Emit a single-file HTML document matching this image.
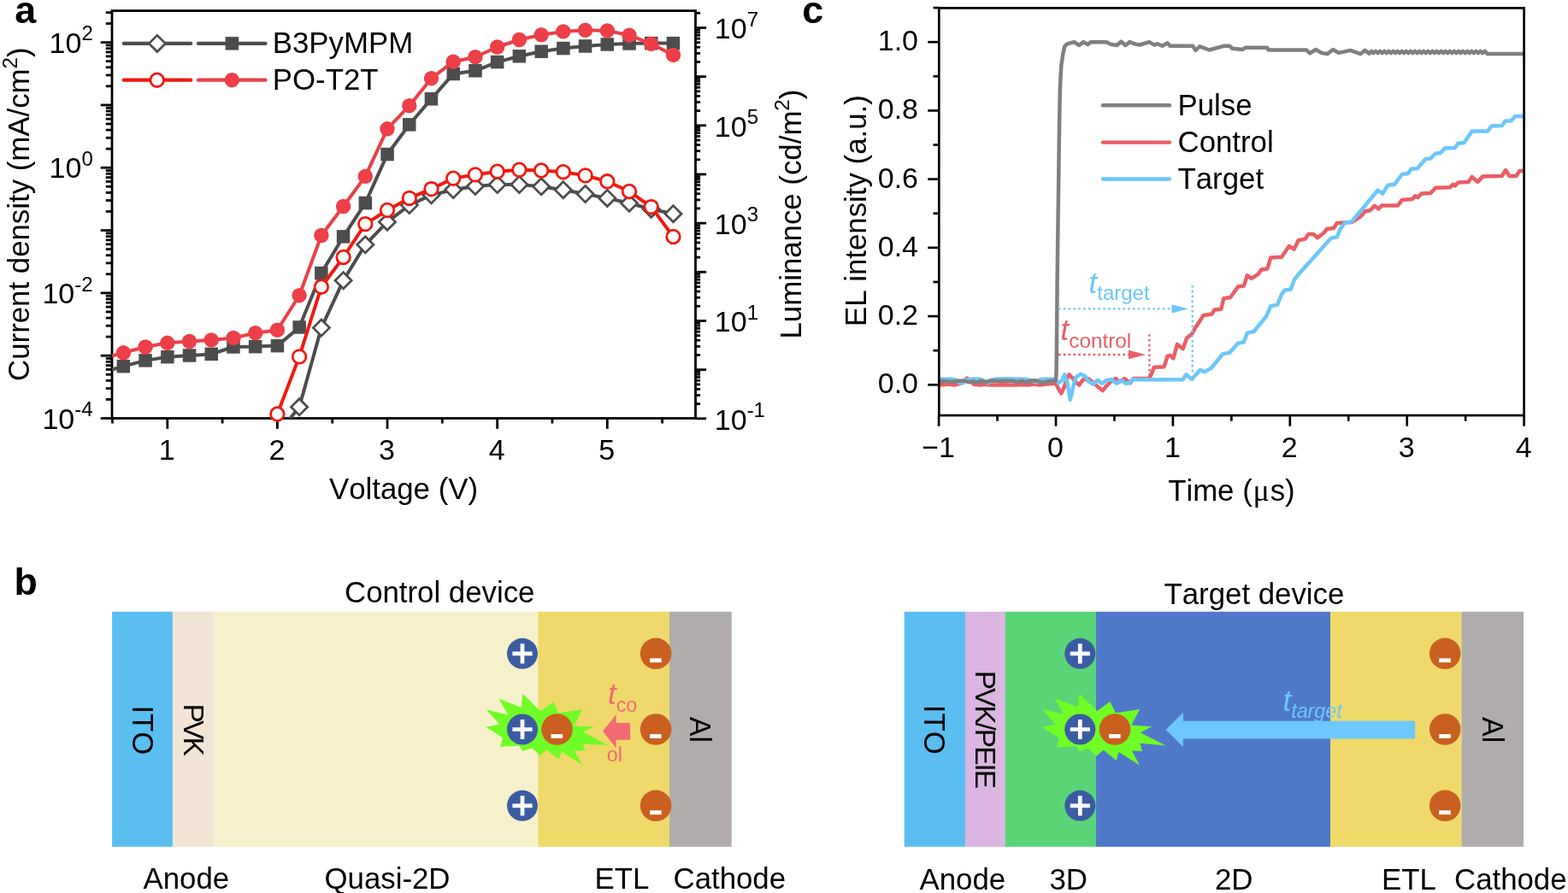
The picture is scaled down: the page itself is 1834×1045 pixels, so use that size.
<!DOCTYPE html>
<html lang="en">
<head>
<meta charset="utf-8">
<title>Figure: J-V-L characteristics, device schematics and transient EL</title>
<style>
html,body{margin:0;padding:0;background:#fff;}
body{width:1834px;height:1045px;overflow:hidden;}
svg{display:block;font-family:'Liberation Sans', Arial, Helvetica, sans-serif;font-kerning:none;}
</style>
</head>
<body>
<svg width="1834" height="1045" viewBox="0 0 1834 1045">
<rect x="0" y="0" width="1834" height="1045" fill="#ffffff"/>
<g id="panel-a">
<line x1="117.70" y1="489.50" x2="131.00" y2="489.50" stroke="#000" stroke-width="2.8" />
<line x1="123.80" y1="467.43" x2="131.00" y2="467.43" stroke="#000" stroke-width="2.8" />
<line x1="123.80" y1="454.52" x2="131.00" y2="454.52" stroke="#000" stroke-width="2.8" />
<line x1="123.80" y1="445.36" x2="131.00" y2="445.36" stroke="#000" stroke-width="2.8" />
<line x1="123.80" y1="438.25" x2="131.00" y2="438.25" stroke="#000" stroke-width="2.8" />
<line x1="123.80" y1="432.45" x2="131.00" y2="432.45" stroke="#000" stroke-width="2.8" />
<line x1="123.80" y1="427.54" x2="131.00" y2="427.54" stroke="#000" stroke-width="2.8" />
<line x1="123.80" y1="423.29" x2="131.00" y2="423.29" stroke="#000" stroke-width="2.8" />
<line x1="123.80" y1="419.54" x2="131.00" y2="419.54" stroke="#000" stroke-width="2.8" />
<line x1="117.70" y1="416.18" x2="131.00" y2="416.18" stroke="#000" stroke-width="2.8" />
<line x1="123.80" y1="394.11" x2="131.00" y2="394.11" stroke="#000" stroke-width="2.8" />
<line x1="123.80" y1="381.20" x2="131.00" y2="381.20" stroke="#000" stroke-width="2.8" />
<line x1="123.80" y1="372.04" x2="131.00" y2="372.04" stroke="#000" stroke-width="2.8" />
<line x1="123.80" y1="364.94" x2="131.00" y2="364.94" stroke="#000" stroke-width="2.8" />
<line x1="123.80" y1="359.13" x2="131.00" y2="359.13" stroke="#000" stroke-width="2.8" />
<line x1="123.80" y1="354.22" x2="131.00" y2="354.22" stroke="#000" stroke-width="2.8" />
<line x1="123.80" y1="349.97" x2="131.00" y2="349.97" stroke="#000" stroke-width="2.8" />
<line x1="123.80" y1="346.22" x2="131.00" y2="346.22" stroke="#000" stroke-width="2.8" />
<line x1="117.70" y1="342.87" x2="131.00" y2="342.87" stroke="#000" stroke-width="2.8" />
<line x1="123.80" y1="320.80" x2="131.00" y2="320.80" stroke="#000" stroke-width="2.8" />
<line x1="123.80" y1="307.89" x2="131.00" y2="307.89" stroke="#000" stroke-width="2.8" />
<line x1="123.80" y1="298.73" x2="131.00" y2="298.73" stroke="#000" stroke-width="2.8" />
<line x1="123.80" y1="291.62" x2="131.00" y2="291.62" stroke="#000" stroke-width="2.8" />
<line x1="123.80" y1="285.82" x2="131.00" y2="285.82" stroke="#000" stroke-width="2.8" />
<line x1="123.80" y1="280.91" x2="131.00" y2="280.91" stroke="#000" stroke-width="2.8" />
<line x1="123.80" y1="276.66" x2="131.00" y2="276.66" stroke="#000" stroke-width="2.8" />
<line x1="123.80" y1="272.90" x2="131.00" y2="272.90" stroke="#000" stroke-width="2.8" />
<line x1="117.70" y1="269.55" x2="131.00" y2="269.55" stroke="#000" stroke-width="2.8" />
<line x1="123.80" y1="247.48" x2="131.00" y2="247.48" stroke="#000" stroke-width="2.8" />
<line x1="123.80" y1="234.57" x2="131.00" y2="234.57" stroke="#000" stroke-width="2.8" />
<line x1="123.80" y1="225.41" x2="131.00" y2="225.41" stroke="#000" stroke-width="2.8" />
<line x1="123.80" y1="218.30" x2="131.00" y2="218.30" stroke="#000" stroke-width="2.8" />
<line x1="123.80" y1="212.50" x2="131.00" y2="212.50" stroke="#000" stroke-width="2.8" />
<line x1="123.80" y1="207.59" x2="131.00" y2="207.59" stroke="#000" stroke-width="2.8" />
<line x1="123.80" y1="203.34" x2="131.00" y2="203.34" stroke="#000" stroke-width="2.8" />
<line x1="123.80" y1="199.59" x2="131.00" y2="199.59" stroke="#000" stroke-width="2.8" />
<line x1="117.70" y1="196.23" x2="131.00" y2="196.23" stroke="#000" stroke-width="2.8" />
<line x1="123.80" y1="174.16" x2="131.00" y2="174.16" stroke="#000" stroke-width="2.8" />
<line x1="123.80" y1="161.25" x2="131.00" y2="161.25" stroke="#000" stroke-width="2.8" />
<line x1="123.80" y1="152.09" x2="131.00" y2="152.09" stroke="#000" stroke-width="2.8" />
<line x1="123.80" y1="144.99" x2="131.00" y2="144.99" stroke="#000" stroke-width="2.8" />
<line x1="123.80" y1="139.18" x2="131.00" y2="139.18" stroke="#000" stroke-width="2.8" />
<line x1="123.80" y1="134.27" x2="131.00" y2="134.27" stroke="#000" stroke-width="2.8" />
<line x1="123.80" y1="130.02" x2="131.00" y2="130.02" stroke="#000" stroke-width="2.8" />
<line x1="123.80" y1="126.27" x2="131.00" y2="126.27" stroke="#000" stroke-width="2.8" />
<line x1="117.70" y1="122.92" x2="131.00" y2="122.92" stroke="#000" stroke-width="2.8" />
<line x1="123.80" y1="100.85" x2="131.00" y2="100.85" stroke="#000" stroke-width="2.8" />
<line x1="123.80" y1="87.94" x2="131.00" y2="87.94" stroke="#000" stroke-width="2.8" />
<line x1="123.80" y1="78.78" x2="131.00" y2="78.78" stroke="#000" stroke-width="2.8" />
<line x1="123.80" y1="71.67" x2="131.00" y2="71.67" stroke="#000" stroke-width="2.8" />
<line x1="123.80" y1="65.87" x2="131.00" y2="65.87" stroke="#000" stroke-width="2.8" />
<line x1="123.80" y1="60.96" x2="131.00" y2="60.96" stroke="#000" stroke-width="2.8" />
<line x1="123.80" y1="56.71" x2="131.00" y2="56.71" stroke="#000" stroke-width="2.8" />
<line x1="123.80" y1="52.95" x2="131.00" y2="52.95" stroke="#000" stroke-width="2.8" />
<line x1="117.70" y1="49.60" x2="131.00" y2="49.60" stroke="#000" stroke-width="2.8" />
<line x1="123.80" y1="27.53" x2="131.00" y2="27.53" stroke="#000" stroke-width="2.8" />
<line x1="123.80" y1="14.62" x2="131.00" y2="14.62" stroke="#000" stroke-width="2.8" />
<line x1="813.50" y1="489.80" x2="826.10" y2="489.80" stroke="#000" stroke-width="2.8" />
<line x1="813.50" y1="472.59" x2="819.10" y2="472.59" stroke="#000" stroke-width="2.8" />
<line x1="813.50" y1="462.53" x2="819.10" y2="462.53" stroke="#000" stroke-width="2.8" />
<line x1="813.50" y1="455.38" x2="819.10" y2="455.38" stroke="#000" stroke-width="2.8" />
<line x1="813.50" y1="449.85" x2="819.10" y2="449.85" stroke="#000" stroke-width="2.8" />
<line x1="813.50" y1="445.32" x2="819.10" y2="445.32" stroke="#000" stroke-width="2.8" />
<line x1="813.50" y1="441.49" x2="819.10" y2="441.49" stroke="#000" stroke-width="2.8" />
<line x1="813.50" y1="438.18" x2="819.10" y2="438.18" stroke="#000" stroke-width="2.8" />
<line x1="813.50" y1="435.25" x2="819.10" y2="435.25" stroke="#000" stroke-width="2.8" />
<line x1="813.50" y1="432.64" x2="826.10" y2="432.64" stroke="#000" stroke-width="2.8" />
<line x1="813.50" y1="415.43" x2="819.10" y2="415.43" stroke="#000" stroke-width="2.8" />
<line x1="813.50" y1="405.36" x2="819.10" y2="405.36" stroke="#000" stroke-width="2.8" />
<line x1="813.50" y1="398.22" x2="819.10" y2="398.22" stroke="#000" stroke-width="2.8" />
<line x1="813.50" y1="392.68" x2="819.10" y2="392.68" stroke="#000" stroke-width="2.8" />
<line x1="813.50" y1="388.16" x2="819.10" y2="388.16" stroke="#000" stroke-width="2.8" />
<line x1="813.50" y1="384.33" x2="819.10" y2="384.33" stroke="#000" stroke-width="2.8" />
<line x1="813.50" y1="381.01" x2="819.10" y2="381.01" stroke="#000" stroke-width="2.8" />
<line x1="813.50" y1="378.09" x2="819.10" y2="378.09" stroke="#000" stroke-width="2.8" />
<line x1="813.50" y1="375.48" x2="826.10" y2="375.48" stroke="#000" stroke-width="2.8" />
<line x1="813.50" y1="358.27" x2="819.10" y2="358.27" stroke="#000" stroke-width="2.8" />
<line x1="813.50" y1="348.20" x2="819.10" y2="348.20" stroke="#000" stroke-width="2.8" />
<line x1="813.50" y1="341.06" x2="819.10" y2="341.06" stroke="#000" stroke-width="2.8" />
<line x1="813.50" y1="335.52" x2="819.10" y2="335.52" stroke="#000" stroke-width="2.8" />
<line x1="813.50" y1="330.99" x2="819.10" y2="330.99" stroke="#000" stroke-width="2.8" />
<line x1="813.50" y1="327.17" x2="819.10" y2="327.17" stroke="#000" stroke-width="2.8" />
<line x1="813.50" y1="323.85" x2="819.10" y2="323.85" stroke="#000" stroke-width="2.8" />
<line x1="813.50" y1="320.93" x2="819.10" y2="320.93" stroke="#000" stroke-width="2.8" />
<line x1="813.50" y1="318.31" x2="826.10" y2="318.31" stroke="#000" stroke-width="2.8" />
<line x1="813.50" y1="301.10" x2="819.10" y2="301.10" stroke="#000" stroke-width="2.8" />
<line x1="813.50" y1="291.04" x2="819.10" y2="291.04" stroke="#000" stroke-width="2.8" />
<line x1="813.50" y1="283.90" x2="819.10" y2="283.90" stroke="#000" stroke-width="2.8" />
<line x1="813.50" y1="278.36" x2="819.10" y2="278.36" stroke="#000" stroke-width="2.8" />
<line x1="813.50" y1="273.83" x2="819.10" y2="273.83" stroke="#000" stroke-width="2.8" />
<line x1="813.50" y1="270.00" x2="819.10" y2="270.00" stroke="#000" stroke-width="2.8" />
<line x1="813.50" y1="266.69" x2="819.10" y2="266.69" stroke="#000" stroke-width="2.8" />
<line x1="813.50" y1="263.77" x2="819.10" y2="263.77" stroke="#000" stroke-width="2.8" />
<line x1="813.50" y1="261.15" x2="826.10" y2="261.15" stroke="#000" stroke-width="2.8" />
<line x1="813.50" y1="243.94" x2="819.10" y2="243.94" stroke="#000" stroke-width="2.8" />
<line x1="813.50" y1="233.88" x2="819.10" y2="233.88" stroke="#000" stroke-width="2.8" />
<line x1="813.50" y1="226.73" x2="819.10" y2="226.73" stroke="#000" stroke-width="2.8" />
<line x1="813.50" y1="221.20" x2="819.10" y2="221.20" stroke="#000" stroke-width="2.8" />
<line x1="813.50" y1="216.67" x2="819.10" y2="216.67" stroke="#000" stroke-width="2.8" />
<line x1="813.50" y1="212.84" x2="819.10" y2="212.84" stroke="#000" stroke-width="2.8" />
<line x1="813.50" y1="209.53" x2="819.10" y2="209.53" stroke="#000" stroke-width="2.8" />
<line x1="813.50" y1="206.60" x2="819.10" y2="206.60" stroke="#000" stroke-width="2.8" />
<line x1="813.50" y1="203.99" x2="826.10" y2="203.99" stroke="#000" stroke-width="2.8" />
<line x1="813.50" y1="186.78" x2="819.10" y2="186.78" stroke="#000" stroke-width="2.8" />
<line x1="813.50" y1="176.71" x2="819.10" y2="176.71" stroke="#000" stroke-width="2.8" />
<line x1="813.50" y1="169.57" x2="819.10" y2="169.57" stroke="#000" stroke-width="2.8" />
<line x1="813.50" y1="164.03" x2="819.10" y2="164.03" stroke="#000" stroke-width="2.8" />
<line x1="813.50" y1="159.51" x2="819.10" y2="159.51" stroke="#000" stroke-width="2.8" />
<line x1="813.50" y1="155.68" x2="819.10" y2="155.68" stroke="#000" stroke-width="2.8" />
<line x1="813.50" y1="152.36" x2="819.10" y2="152.36" stroke="#000" stroke-width="2.8" />
<line x1="813.50" y1="149.44" x2="819.10" y2="149.44" stroke="#000" stroke-width="2.8" />
<line x1="813.50" y1="146.82" x2="826.10" y2="146.82" stroke="#000" stroke-width="2.8" />
<line x1="813.50" y1="129.62" x2="819.10" y2="129.62" stroke="#000" stroke-width="2.8" />
<line x1="813.50" y1="119.55" x2="819.10" y2="119.55" stroke="#000" stroke-width="2.8" />
<line x1="813.50" y1="112.41" x2="819.10" y2="112.41" stroke="#000" stroke-width="2.8" />
<line x1="813.50" y1="106.87" x2="819.10" y2="106.87" stroke="#000" stroke-width="2.8" />
<line x1="813.50" y1="102.34" x2="819.10" y2="102.34" stroke="#000" stroke-width="2.8" />
<line x1="813.50" y1="98.52" x2="819.10" y2="98.52" stroke="#000" stroke-width="2.8" />
<line x1="813.50" y1="95.20" x2="819.10" y2="95.20" stroke="#000" stroke-width="2.8" />
<line x1="813.50" y1="92.28" x2="819.10" y2="92.28" stroke="#000" stroke-width="2.8" />
<line x1="813.50" y1="89.66" x2="826.10" y2="89.66" stroke="#000" stroke-width="2.8" />
<line x1="813.50" y1="72.45" x2="819.10" y2="72.45" stroke="#000" stroke-width="2.8" />
<line x1="813.50" y1="62.39" x2="819.10" y2="62.39" stroke="#000" stroke-width="2.8" />
<line x1="813.50" y1="55.25" x2="819.10" y2="55.25" stroke="#000" stroke-width="2.8" />
<line x1="813.50" y1="49.71" x2="819.10" y2="49.71" stroke="#000" stroke-width="2.8" />
<line x1="813.50" y1="45.18" x2="819.10" y2="45.18" stroke="#000" stroke-width="2.8" />
<line x1="813.50" y1="41.35" x2="819.10" y2="41.35" stroke="#000" stroke-width="2.8" />
<line x1="813.50" y1="38.04" x2="819.10" y2="38.04" stroke="#000" stroke-width="2.8" />
<line x1="813.50" y1="35.12" x2="819.10" y2="35.12" stroke="#000" stroke-width="2.8" />
<line x1="813.50" y1="32.50" x2="826.10" y2="32.50" stroke="#000" stroke-width="2.8" />
<line x1="813.50" y1="15.29" x2="819.10" y2="15.29" stroke="#000" stroke-width="2.8" />
<line x1="195.80" y1="489.50" x2="195.80" y2="501.80" stroke="#000" stroke-width="2.8" />
<line x1="324.42" y1="489.50" x2="324.42" y2="501.80" stroke="#000" stroke-width="2.8" />
<line x1="453.04" y1="489.50" x2="453.04" y2="501.80" stroke="#000" stroke-width="2.8" />
<line x1="581.66" y1="489.50" x2="581.66" y2="501.80" stroke="#000" stroke-width="2.8" />
<line x1="710.28" y1="489.50" x2="710.28" y2="501.80" stroke="#000" stroke-width="2.8" />
<line x1="131.49" y1="489.50" x2="131.49" y2="495.50" stroke="#000" stroke-width="2.8" />
<line x1="260.11" y1="489.50" x2="260.11" y2="495.50" stroke="#000" stroke-width="2.8" />
<line x1="388.73" y1="489.50" x2="388.73" y2="495.50" stroke="#000" stroke-width="2.8" />
<line x1="517.35" y1="489.50" x2="517.35" y2="495.50" stroke="#000" stroke-width="2.8" />
<line x1="645.97" y1="489.50" x2="645.97" y2="495.50" stroke="#000" stroke-width="2.8" />
<line x1="774.59" y1="489.50" x2="774.59" y2="495.50" stroke="#000" stroke-width="2.8" />
<rect x="131.0" y="12.6" width="682.50" height="476.90" fill="none" stroke="#000" stroke-width="2.8"/>
<text x="57.60" y="61.80" font-size="34.0" text-anchor="start" fill="#000">10<tspan font-size="24.0" dy="-14.5">2</tspan></text>
<text x="57.60" y="208.43" font-size="34.0" text-anchor="start" fill="#000">10<tspan font-size="24.0" dy="-14.5">0</tspan></text>
<text x="49.40" y="355.07" font-size="34.0" text-anchor="start" fill="#000">10<tspan font-size="24.0" dy="-14.5">-2</tspan></text>
<text x="49.40" y="501.70" font-size="34.0" text-anchor="start" fill="#000">10<tspan font-size="24.0" dy="-14.5">-4</tspan></text>
<text x="835.80" y="45.30" font-size="34.0" text-anchor="start" fill="#000">10<tspan font-size="24.0" dy="-14.5">7</tspan></text>
<text x="835.80" y="159.62" font-size="34.0" text-anchor="start" fill="#000">10<tspan font-size="24.0" dy="-14.5">5</tspan></text>
<text x="835.80" y="273.95" font-size="34.0" text-anchor="start" fill="#000">10<tspan font-size="24.0" dy="-14.5">3</tspan></text>
<text x="835.80" y="388.28" font-size="34.0" text-anchor="start" fill="#000">10<tspan font-size="24.0" dy="-14.5">1</tspan></text>
<text x="835.80" y="502.60" font-size="34.0" text-anchor="start" fill="#000">10<tspan font-size="24.0" dy="-14.5">-1</tspan></text>
<text x="195.30" y="538.30" font-size="34.0" text-anchor="middle" fill="#000">1</text>
<text x="323.92" y="538.30" font-size="34.0" text-anchor="middle" fill="#000">2</text>
<text x="452.54" y="538.30" font-size="34.0" text-anchor="middle" fill="#000">3</text>
<text x="581.16" y="538.30" font-size="34.0" text-anchor="middle" fill="#000">4</text>
<text x="709.78" y="538.30" font-size="34.0" text-anchor="middle" fill="#000">5</text>
<text x="472.00" y="583.90" font-size="34.8" text-anchor="middle" fill="#000">Voltage (V)</text>
<text x="34.30" y="250.70" font-size="34.8" text-anchor="middle" fill="#000" transform="rotate(-90 34.30 250.70)">Current density (mA/cm<tspan font-size="24.0" dy="-14.5">2</tspan><tspan dy="14.5">)</tspan></text>
<text x="937.30" y="250.60" font-size="34.8" text-anchor="middle" fill="#000" transform="rotate(-90 937.30 250.60)">Luminance (cd/m<tspan font-size="24.0" dy="-14.5">2</tspan><tspan dy="14.5">)</tspan></text>
<text x="17.20" y="26.80" font-size="44.8" text-anchor="start" fill="#000" font-weight="bold">a</text>
<polyline points="339.4,489.5 350.1,476.3 375.9,383.6 401.6,328.2 427.3,286.3 453.0,259.7 478.8,240.1 504.5,228.3 530.2,222.0 555.9,218.0 581.7,216.0 607.4,216.0 633.1,218.3 658.8,222.2 684.6,227.0 710.3,231.9 736.0,237.8 761.7,244.7 787.5,250.2" fill="none" stroke="#4d4d4d" stroke-width="4.0" stroke-linejoin="round" stroke-linecap="butt"/>
<path d="M340.5 476.3L350.1 466.7L359.7 476.3L350.1 485.9Z" fill="#fff" stroke="#4d4d4d" stroke-width="2.7" stroke-linejoin="miter"/>
<path d="M366.3 383.6L375.9 374.0L385.5 383.6L375.9 393.2Z" fill="#fff" stroke="#4d4d4d" stroke-width="2.7" stroke-linejoin="miter"/>
<path d="M392.0 328.2L401.6 318.6L411.2 328.2L401.6 337.8Z" fill="#fff" stroke="#4d4d4d" stroke-width="2.7" stroke-linejoin="miter"/>
<path d="M417.7 286.3L427.3 276.7L436.9 286.3L427.3 295.9Z" fill="#fff" stroke="#4d4d4d" stroke-width="2.7" stroke-linejoin="miter"/>
<path d="M443.4 259.7L453.0 250.1L462.6 259.7L453.0 269.3Z" fill="#fff" stroke="#4d4d4d" stroke-width="2.7" stroke-linejoin="miter"/>
<path d="M469.2 240.1L478.8 230.5L488.4 240.1L478.8 249.7Z" fill="#fff" stroke="#4d4d4d" stroke-width="2.7" stroke-linejoin="miter"/>
<path d="M494.9 228.3L504.5 218.7L514.1 228.3L504.5 237.9Z" fill="#fff" stroke="#4d4d4d" stroke-width="2.7" stroke-linejoin="miter"/>
<path d="M520.6 222.0L530.2 212.4L539.8 222.0L530.2 231.6Z" fill="#fff" stroke="#4d4d4d" stroke-width="2.7" stroke-linejoin="miter"/>
<path d="M546.3 218.0L555.9 208.4L565.5 218.0L555.9 227.6Z" fill="#fff" stroke="#4d4d4d" stroke-width="2.7" stroke-linejoin="miter"/>
<path d="M572.1 216.0L581.7 206.4L591.3 216.0L581.7 225.6Z" fill="#fff" stroke="#4d4d4d" stroke-width="2.7" stroke-linejoin="miter"/>
<path d="M597.8 216.0L607.4 206.4L617.0 216.0L607.4 225.6Z" fill="#fff" stroke="#4d4d4d" stroke-width="2.7" stroke-linejoin="miter"/>
<path d="M623.5 218.3L633.1 208.7L642.7 218.3L633.1 227.9Z" fill="#fff" stroke="#4d4d4d" stroke-width="2.7" stroke-linejoin="miter"/>
<path d="M649.2 222.2L658.8 212.6L668.4 222.2L658.8 231.8Z" fill="#fff" stroke="#4d4d4d" stroke-width="2.7" stroke-linejoin="miter"/>
<path d="M675.0 227.0L684.6 217.4L694.2 227.0L684.6 236.6Z" fill="#fff" stroke="#4d4d4d" stroke-width="2.7" stroke-linejoin="miter"/>
<path d="M700.7 231.9L710.3 222.3L719.9 231.9L710.3 241.5Z" fill="#fff" stroke="#4d4d4d" stroke-width="2.7" stroke-linejoin="miter"/>
<path d="M726.4 237.8L736.0 228.2L745.6 237.8L736.0 247.4Z" fill="#fff" stroke="#4d4d4d" stroke-width="2.7" stroke-linejoin="miter"/>
<path d="M752.1 244.7L761.7 235.1L771.3 244.7L761.7 254.3Z" fill="#fff" stroke="#4d4d4d" stroke-width="2.7" stroke-linejoin="miter"/>
<path d="M777.9 250.2L787.5 240.6L797.1 250.2L787.5 259.8Z" fill="#fff" stroke="#4d4d4d" stroke-width="2.7" stroke-linejoin="miter"/>
<polyline points="131.0,432.5 144.4,428.7 170.1,421.9 195.8,417.7 221.5,416.0 247.2,414.4 273.0,406.0 298.7,405.6 324.4,404.6 350.1,383.0 375.9,319.6 401.6,276.8 427.3,237.6 453.0,180.6 478.8,145.8 504.5,115.8 530.2,86.4 555.9,82.8 581.7,72.6 607.4,65.8 633.1,60.3 658.8,56.5 684.6,54.0 710.3,52.0 736.0,51.0 761.7,50.6 787.5,50.6" fill="none" stroke="#4d4d4d" stroke-width="4.0" stroke-linejoin="round" stroke-linecap="butt"/>
<rect x="136.6" y="420.9" width="15.5" height="15.5" fill="#4d4d4d"/>
<rect x="162.3" y="414.1" width="15.5" height="15.5" fill="#4d4d4d"/>
<rect x="188.1" y="409.9" width="15.5" height="15.5" fill="#4d4d4d"/>
<rect x="213.8" y="408.2" width="15.5" height="15.5" fill="#4d4d4d"/>
<rect x="239.5" y="406.6" width="15.5" height="15.5" fill="#4d4d4d"/>
<rect x="265.2" y="398.2" width="15.5" height="15.5" fill="#4d4d4d"/>
<rect x="290.9" y="397.9" width="15.5" height="15.5" fill="#4d4d4d"/>
<rect x="316.7" y="396.9" width="15.5" height="15.5" fill="#4d4d4d"/>
<rect x="342.4" y="375.2" width="15.5" height="15.5" fill="#4d4d4d"/>
<rect x="368.1" y="311.9" width="15.5" height="15.5" fill="#4d4d4d"/>
<rect x="393.8" y="269.1" width="15.5" height="15.5" fill="#4d4d4d"/>
<rect x="419.6" y="229.8" width="15.5" height="15.5" fill="#4d4d4d"/>
<rect x="445.3" y="172.8" width="15.5" height="15.5" fill="#4d4d4d"/>
<rect x="471.0" y="138.1" width="15.5" height="15.5" fill="#4d4d4d"/>
<rect x="496.7" y="108.0" width="15.5" height="15.5" fill="#4d4d4d"/>
<rect x="522.5" y="78.7" width="15.5" height="15.5" fill="#4d4d4d"/>
<rect x="548.2" y="75.0" width="15.5" height="15.5" fill="#4d4d4d"/>
<rect x="573.9" y="64.8" width="15.5" height="15.5" fill="#4d4d4d"/>
<rect x="599.6" y="58.0" width="15.5" height="15.5" fill="#4d4d4d"/>
<rect x="625.4" y="52.5" width="15.5" height="15.5" fill="#4d4d4d"/>
<rect x="651.1" y="48.8" width="15.5" height="15.5" fill="#4d4d4d"/>
<rect x="676.8" y="46.2" width="15.5" height="15.5" fill="#4d4d4d"/>
<rect x="702.5" y="44.2" width="15.5" height="15.5" fill="#4d4d4d"/>
<rect x="728.3" y="43.2" width="15.5" height="15.5" fill="#4d4d4d"/>
<rect x="754.0" y="42.9" width="15.5" height="15.5" fill="#4d4d4d"/>
<rect x="779.7" y="42.9" width="15.5" height="15.5" fill="#4d4d4d"/>
<polyline points="324.4,484.5 350.1,417.4 375.9,335.7 401.6,301.0 427.3,262.1 453.0,246.0 478.8,231.9 504.5,221.1 530.2,208.7 555.9,204.4 581.7,200.7 607.4,198.7 633.1,199.5 658.8,201.2 684.6,205.4 710.3,212.3 736.0,224.0 761.7,242.1 787.5,277.0" fill="none" stroke="#f2190f" stroke-width="4.0" stroke-linejoin="round" stroke-linecap="butt"/>
<circle cx="324.4" cy="484.5" r="7.8" fill="#fff" stroke="#f2190f" stroke-width="2.8"/>
<circle cx="350.1" cy="417.4" r="7.8" fill="#fff" stroke="#f2190f" stroke-width="2.8"/>
<circle cx="375.9" cy="335.7" r="7.8" fill="#fff" stroke="#f2190f" stroke-width="2.8"/>
<circle cx="401.6" cy="301.0" r="7.8" fill="#fff" stroke="#f2190f" stroke-width="2.8"/>
<circle cx="427.3" cy="262.1" r="7.8" fill="#fff" stroke="#f2190f" stroke-width="2.8"/>
<circle cx="453.0" cy="246.0" r="7.8" fill="#fff" stroke="#f2190f" stroke-width="2.8"/>
<circle cx="478.8" cy="231.9" r="7.8" fill="#fff" stroke="#f2190f" stroke-width="2.8"/>
<circle cx="504.5" cy="221.1" r="7.8" fill="#fff" stroke="#f2190f" stroke-width="2.8"/>
<circle cx="530.2" cy="208.7" r="7.8" fill="#fff" stroke="#f2190f" stroke-width="2.8"/>
<circle cx="555.9" cy="204.4" r="7.8" fill="#fff" stroke="#f2190f" stroke-width="2.8"/>
<circle cx="581.7" cy="200.7" r="7.8" fill="#fff" stroke="#f2190f" stroke-width="2.8"/>
<circle cx="607.4" cy="198.7" r="7.8" fill="#fff" stroke="#f2190f" stroke-width="2.8"/>
<circle cx="633.1" cy="199.5" r="7.8" fill="#fff" stroke="#f2190f" stroke-width="2.8"/>
<circle cx="658.8" cy="201.2" r="7.8" fill="#fff" stroke="#f2190f" stroke-width="2.8"/>
<circle cx="684.6" cy="205.4" r="7.8" fill="#fff" stroke="#f2190f" stroke-width="2.8"/>
<circle cx="710.3" cy="212.3" r="7.8" fill="#fff" stroke="#f2190f" stroke-width="2.8"/>
<circle cx="736.0" cy="224.0" r="7.8" fill="#fff" stroke="#f2190f" stroke-width="2.8"/>
<circle cx="761.7" cy="242.1" r="7.8" fill="#fff" stroke="#f2190f" stroke-width="2.8"/>
<circle cx="787.5" cy="277.0" r="7.8" fill="#fff" stroke="#f2190f" stroke-width="2.8"/>
<polyline points="131.0,416.4 144.4,412.8 170.1,406.0 195.8,401.3 221.5,399.5 247.2,397.9 273.0,395.4 298.7,389.7 324.4,386.2 350.1,345.7 375.9,275.5 401.6,241.5 427.3,206.4 453.0,150.8 478.8,123.7 504.5,91.7 530.2,72.2 555.9,66.7 581.7,55.0 607.4,46.5 633.1,40.8 658.8,36.9 684.6,35.3 710.3,35.9 736.0,41.2 761.7,51.4 787.5,64.4" fill="none" stroke="#ec3f47" stroke-width="4.0" stroke-linejoin="round" stroke-linecap="butt"/>
<circle cx="144.4" cy="412.8" r="8.7" fill="#ec3f47"/>
<circle cx="170.1" cy="406.0" r="8.7" fill="#ec3f47"/>
<circle cx="195.8" cy="401.3" r="8.7" fill="#ec3f47"/>
<circle cx="221.5" cy="399.5" r="8.7" fill="#ec3f47"/>
<circle cx="247.2" cy="397.9" r="8.7" fill="#ec3f47"/>
<circle cx="273.0" cy="395.4" r="8.7" fill="#ec3f47"/>
<circle cx="298.7" cy="389.7" r="8.7" fill="#ec3f47"/>
<circle cx="324.4" cy="386.2" r="8.7" fill="#ec3f47"/>
<circle cx="350.1" cy="345.7" r="8.7" fill="#ec3f47"/>
<circle cx="375.9" cy="275.5" r="8.7" fill="#ec3f47"/>
<circle cx="401.6" cy="241.5" r="8.7" fill="#ec3f47"/>
<circle cx="427.3" cy="206.4" r="8.7" fill="#ec3f47"/>
<circle cx="453.0" cy="150.8" r="8.7" fill="#ec3f47"/>
<circle cx="478.8" cy="123.7" r="8.7" fill="#ec3f47"/>
<circle cx="504.5" cy="91.7" r="8.7" fill="#ec3f47"/>
<circle cx="530.2" cy="72.2" r="8.7" fill="#ec3f47"/>
<circle cx="555.9" cy="66.7" r="8.7" fill="#ec3f47"/>
<circle cx="581.7" cy="55.0" r="8.7" fill="#ec3f47"/>
<circle cx="607.4" cy="46.5" r="8.7" fill="#ec3f47"/>
<circle cx="633.1" cy="40.8" r="8.7" fill="#ec3f47"/>
<circle cx="658.8" cy="36.9" r="8.7" fill="#ec3f47"/>
<circle cx="684.6" cy="35.3" r="8.7" fill="#ec3f47"/>
<circle cx="710.3" cy="35.9" r="8.7" fill="#ec3f47"/>
<circle cx="736.0" cy="41.2" r="8.7" fill="#ec3f47"/>
<circle cx="761.7" cy="51.4" r="8.7" fill="#ec3f47"/>
<circle cx="787.5" cy="64.4" r="8.7" fill="#ec3f47"/>
<line x1="144.8" y1="50.9" x2="223.2" y2="50.9" stroke="#4d4d4d" stroke-width="4.2" stroke-linecap="round"/>
<path d="M174.3 50.9L183.9 41.3L193.5 50.9L183.9 60.5Z" fill="#fff" stroke="#4d4d4d" stroke-width="2.7" stroke-linejoin="miter"/>
<line x1="232" y1="50.9" x2="310.6" y2="50.9" stroke="#4d4d4d" stroke-width="4.2" stroke-linecap="round"/>
<rect x="263.6" y="43.1" width="15.5" height="15.5" fill="#4d4d4d"/>
<line x1="144.8" y1="93.7" x2="223.2" y2="93.7" stroke="#f2190f" stroke-width="4.2" stroke-linecap="round"/>
<circle cx="183.7" cy="93.7" r="7.8" fill="#fff" stroke="#f2190f" stroke-width="2.8"/>
<line x1="232" y1="93.7" x2="310.6" y2="93.7" stroke="#ec3f47" stroke-width="4.2" stroke-linecap="round"/>
<circle cx="271.3" cy="93.7" r="8.7" fill="#ec3f47"/>
<text x="318.80" y="62.30" font-size="34.8" text-anchor="start" fill="#000">B3PyMPM</text>
<text x="318.80" y="105.00" font-size="34.8" text-anchor="start" fill="#000">PO-T2T</text>
</g>
<g id="panel-c">
<line x1="1085.30" y1="450.30" x2="1098.30" y2="450.30" stroke="#000" stroke-width="2.7" />
<line x1="1085.30" y1="370.08" x2="1098.30" y2="370.08" stroke="#000" stroke-width="2.7" />
<line x1="1085.30" y1="289.86" x2="1098.30" y2="289.86" stroke="#000" stroke-width="2.7" />
<line x1="1085.30" y1="209.64" x2="1098.30" y2="209.64" stroke="#000" stroke-width="2.7" />
<line x1="1085.30" y1="129.42" x2="1098.30" y2="129.42" stroke="#000" stroke-width="2.7" />
<line x1="1085.30" y1="49.20" x2="1098.30" y2="49.20" stroke="#000" stroke-width="2.7" />
<line x1="1091.50" y1="410.19" x2="1098.30" y2="410.19" stroke="#000" stroke-width="2.7" />
<line x1="1091.50" y1="329.97" x2="1098.30" y2="329.97" stroke="#000" stroke-width="2.7" />
<line x1="1091.50" y1="249.75" x2="1098.30" y2="249.75" stroke="#000" stroke-width="2.7" />
<line x1="1091.50" y1="169.53" x2="1098.30" y2="169.53" stroke="#000" stroke-width="2.7" />
<line x1="1091.50" y1="89.31" x2="1098.30" y2="89.31" stroke="#000" stroke-width="2.7" />
<line x1="1091.50" y1="9.09" x2="1098.30" y2="9.09" stroke="#000" stroke-width="2.7" />
<line x1="1098.10" y1="486.10" x2="1098.10" y2="498.70" stroke="#000" stroke-width="2.7" />
<line x1="1235.00" y1="486.10" x2="1235.00" y2="498.70" stroke="#000" stroke-width="2.7" />
<line x1="1371.90" y1="486.10" x2="1371.90" y2="498.70" stroke="#000" stroke-width="2.7" />
<line x1="1508.80" y1="486.10" x2="1508.80" y2="498.70" stroke="#000" stroke-width="2.7" />
<line x1="1645.70" y1="486.10" x2="1645.70" y2="498.70" stroke="#000" stroke-width="2.7" />
<line x1="1782.60" y1="486.10" x2="1782.60" y2="498.70" stroke="#000" stroke-width="2.7" />
<line x1="1166.55" y1="486.10" x2="1166.55" y2="492.70" stroke="#000" stroke-width="2.7" />
<line x1="1303.45" y1="486.10" x2="1303.45" y2="492.70" stroke="#000" stroke-width="2.7" />
<line x1="1440.35" y1="486.10" x2="1440.35" y2="492.70" stroke="#000" stroke-width="2.7" />
<line x1="1577.25" y1="486.10" x2="1577.25" y2="492.70" stroke="#000" stroke-width="2.7" />
<line x1="1714.15" y1="486.10" x2="1714.15" y2="492.70" stroke="#000" stroke-width="2.7" />
<text x="1074.00" y="460.20" font-size="34.0" text-anchor="end" fill="#000">0.0</text>
<text x="1074.00" y="379.98" font-size="34.0" text-anchor="end" fill="#000">0.2</text>
<text x="1074.00" y="299.76" font-size="34.0" text-anchor="end" fill="#000">0.4</text>
<text x="1074.00" y="219.54" font-size="34.0" text-anchor="end" fill="#000">0.6</text>
<text x="1074.00" y="139.32" font-size="34.0" text-anchor="end" fill="#000">0.8</text>
<text x="1074.00" y="59.10" font-size="34.0" text-anchor="end" fill="#000">1.0</text>
<text x="1097.60" y="535.40" font-size="34.0" text-anchor="middle" fill="#000">−1</text>
<text x="1234.50" y="535.40" font-size="34.0" text-anchor="middle" fill="#000">0</text>
<text x="1371.40" y="535.40" font-size="34.0" text-anchor="middle" fill="#000">1</text>
<text x="1508.30" y="535.40" font-size="34.0" text-anchor="middle" fill="#000">2</text>
<text x="1645.20" y="535.40" font-size="34.0" text-anchor="middle" fill="#000">3</text>
<text x="1782.10" y="535.40" font-size="34.0" text-anchor="middle" fill="#000">4</text>
<text x="1440.40" y="585.60" font-size="34.8" text-anchor="middle" fill="#000">Time (<tspan font-family="'Liberation Serif', 'DejaVu Serif', serif" font-size="36" dx="0.8">μ</tspan><tspan dx="0.8">s)</tspan></text>
<text x="1012.60" y="246.60" font-size="34.8" text-anchor="middle" fill="#000" transform="rotate(-90 1012.60 246.60)">EL intensity (a.u.)</text>
<text x="938.30" y="27.00" font-size="44.8" text-anchor="start" fill="#000" font-weight="bold">c</text>
<polyline points="1098.3,450.0 1104.0,450.3 1110.0,449.5 1116.0,450.6 1122.0,449.0 1127.0,446.5 1131.0,442.5 1135.0,445.5 1139.0,449.8 1146.0,450.6 1152.0,449.8 1158.0,450.4 1165.0,450.6 1172.0,450.2 1180.0,450.6 1188.0,450.5 1195.0,450.0 1202.0,450.5 1210.0,449.5 1216.0,450.4 1223.0,449.6 1230.0,449.0 1234.7,448.2 1238.0,454.7 1241.3,460.3 1244.6,453.4 1247.5,444.0 1250.5,438.3 1255.0,443.0 1259.0,448.0 1262.3,450.4 1266.8,444.2 1273.4,443.6 1279.0,448.0 1285.2,453.4 1289.8,457.0 1293.7,452.1 1298.3,447.5 1304.8,443.0 1309.0,447.0 1315.3,443.0 1321.9,448.2 1325.8,443.0 1344.4,443.0 1345.9,439.6 1349.8,429.8 1361.6,429.2 1365.5,416.7 1369.0,416.0 1372.4,419.4 1376.9,402.9 1383.6,408.2 1388.1,395.5 1394.0,391.1 1397.9,383.7 1407.7,369.0 1417.5,367.6 1420.5,362.5 1428.3,361.7 1431.3,349.3 1439.1,348.0 1448.0,335.6 1454.8,334.6 1458.8,322.4 1463.7,325.8 1471.5,320.9 1475.5,315.4 1482.3,314.4 1486.3,301.6 1499.0,300.8 1507.8,288.0 1513.7,291.6 1518.6,281.2 1526.5,279.6 1530.6,273.9 1536.3,274.1 1541.0,278.2 1548.1,272.8 1552.0,268.0 1559.9,266.9 1563.6,261.3 1571.6,260.6 1581.0,260.0 1591.8,253.1 1596.7,247.2 1602.6,246.2 1607.5,240.9 1612.4,244.3 1616.3,240.4 1635.0,240.4 1639.9,233.9 1651.7,233.1 1655.6,229.2 1658.5,231.1 1662.5,226.6 1673.3,226.0 1679.1,219.7 1695.8,219.2 1699.7,215.8 1701.7,217.4 1705.6,213.5 1717.4,212.9 1721.7,207.0 1728.2,212.9 1734.1,206.6 1756.7,206.0 1761.0,199.1 1765.5,206.0 1773.4,206.0 1777.3,200.1 1782.2,199.7" fill="none" stroke="#ea5d66" stroke-width="4.5" stroke-linejoin="round" stroke-linecap="butt"/>
<polyline points="1098.3,443.5 1106.0,443.7 1112.0,443.5 1118.0,444.5 1122.0,448.0 1126.0,448.5 1130.0,444.5 1138.0,443.5 1146.0,443.5 1152.0,446.0 1156.0,448.0 1160.0,444.5 1166.0,443.5 1176.0,443.3 1190.0,443.5 1200.0,443.7 1208.0,446.0 1212.0,447.5 1217.0,444.0 1226.0,443.5 1234.7,443.7 1238.0,448.2 1241.9,445.5 1245.2,438.3 1248.5,448.2 1251.8,467.8 1255.0,453.4 1258.3,441.6 1264.2,437.7 1269.5,440.3 1272.1,445.5 1278.6,449.5 1283.9,444.9 1289.1,448.8 1294.4,444.9 1299.6,444.2 1306.2,448.8 1311.4,444.9 1316.6,448.8 1320.6,448.2 1324.5,444.2 1383.5,444.2 1387.4,438.3 1394.0,443.8 1403.8,432.8 1408.7,435.3 1416.6,430.8 1430.3,414.1 1438.2,412.7 1448.0,401.7 1454.8,400.4 1458.8,389.6 1466.6,388.0 1481.3,369.9 1486.3,358.2 1494.1,356.6 1499.0,344.4 1502.9,339.5 1509.8,338.5 1513.7,327.7 1520.6,318.9 1540.2,297.3 1556.9,278.6 1563.8,277.3 1567.7,267.9 1573.1,260.6 1581.0,259.4 1611.4,222.7 1617.3,226.6 1623.2,216.8 1631.0,215.8 1639.9,204.0 1646.8,203.1 1650.7,197.6 1657.6,197.2 1667.4,186.0 1673.3,185.4 1679.1,179.5 1685.0,178.9 1689.9,173.6 1701.7,173.0 1705.6,167.7 1712.5,167.1 1721.7,153.4 1740.0,153.4 1744.5,147.5 1756.7,147.1 1760.6,141.8 1767.5,141.2 1772.4,135.9 1782.2,135.9" fill="none" stroke="#6cc7fb" stroke-width="4.5" stroke-linejoin="round" stroke-linecap="butt"/>
<polyline points="1098.3,446.2 1104.0,445.8 1110.0,446.5 1116.0,446.8 1121.0,445.8 1128.0,445.6 1133.0,447.2 1138.0,446.2 1143.0,447.6 1148.0,445.6 1153.0,447.4 1158.0,445.4 1163.0,445.8 1185.0,445.8 1190.0,447.2 1195.0,445.6 1200.0,447.4 1205.0,445.6 1211.0,445.2 1216.0,446.8 1221.0,447.8 1226.0,446.2 1231.0,445.8 1234.6,445.6 1235.4,440.0 1235.8,420.0 1236.6,330.0 1237.5,260.0 1238.3,204.0 1238.8,162.0 1239.8,105.0 1241.3,76.7 1243.4,62.5 1245.3,54.2 1248.2,51.4 1256.3,49.1 1262.3,53.0 1267.3,49.1 1272.4,52.1 1275.8,49.2 1294.4,49.2 1298.6,51.6 1306.2,53.0 1311.3,48.7 1316.3,53.0 1321.4,49.1 1328.2,51.6 1333.3,52.5 1344.2,49.1 1350.2,52.6 1353.6,51.3 1359.5,53.8 1365.4,50.4 1368.8,53.8 1395.0,53.8 1398.3,58.9 1403.4,54.3 1414.4,58.5 1431.3,53.8 1438.0,53.8 1441.4,56.8 1453.3,58.0 1456.7,55.8 1482.0,55.8 1483.7,58.5 1527.9,58.5 1532.1,62.3 1538.9,58.0 1545.6,61.9 1552.4,63.1 1559.2,58.0 1565.9,61.9 1579.4,58.9 1591.3,63.1 1596.3,58.9 1601.4,62.6 1604.0,59.8 1606.5,62.2 1609.1,59.8 1611.6,62.2 1614.2,59.8 1616.7,62.2 1619.3,59.8 1621.8,62.2 1624.4,59.8 1626.9,62.2 1629.5,59.8 1632.0,62.2 1634.6,59.8 1637.1,62.2 1639.7,59.8 1642.2,62.2 1644.8,59.8 1647.3,62.2 1649.9,59.8 1652.4,62.2 1655.0,59.8 1657.5,62.2 1660.1,59.8 1662.6,62.2 1665.2,59.8 1667.7,62.2 1670.3,59.8 1672.8,62.2 1675.4,59.8 1677.9,62.2 1680.5,59.8 1683.0,62.2 1685.6,59.8 1688.1,62.2 1690.7,59.8 1693.2,62.2 1695.8,59.8 1698.3,62.2 1700.9,59.8 1703.4,62.2 1706.0,59.8 1708.5,62.2 1711.1,59.8 1713.6,62.2 1716.2,59.8 1718.7,62.2 1721.3,59.8 1723.8,62.2 1726.4,59.8 1728.9,62.2 1731.5,59.8 1734.0,62.2 1736.6,59.8 1740.0,63.1 1782.0,63.1" fill="none" stroke="#808080" stroke-width="4.5" stroke-linejoin="round" stroke-linecap="butt"/>
<rect x="1098.3" y="9.4" width="684.30" height="476.70" fill="none" stroke="#000" stroke-width="2.7"/>
<line x1="1238" y1="361.4" x2="1371" y2="361.4" stroke="#6cc7fb" stroke-width="2.3" stroke-dasharray="2.6 3.2"/>
<path d="M1370.5 356.2L1390.2 361.4L1370.5 366.6Z" fill="#6cc7fb"/>
<line x1="1394.7" y1="334" x2="1394.7" y2="437" stroke="#6cc7fb" stroke-width="2.3" stroke-dasharray="2.6 3.2"/>
<line x1="1238" y1="415" x2="1321" y2="415" stroke="#ea5d66" stroke-width="2.3" stroke-dasharray="2.6 3.2"/>
<path d="M1320 409.8L1340 415L1320 420.2Z" fill="#ea5d66"/>
<line x1="1344.4" y1="391.2" x2="1344.4" y2="441" stroke="#ea5d66" stroke-width="2.3" stroke-dasharray="2.6 3.2"/>
<text x="1273.60" y="343.00" font-size="34.8" text-anchor="start" fill="#6cc7fb"><tspan font-style="italic">t</tspan><tspan font-size="24" dy="7.5">target</tspan></text>
<text x="1240.60" y="397.70" font-size="34.8" text-anchor="start" fill="#ea5d66"><tspan font-style="italic">t</tspan><tspan font-size="24.3" dy="8.8">control</tspan></text>
<line x1="1290" y1="123.3" x2="1368" y2="123.3" stroke="#808080" stroke-width="4.4" stroke-linecap="round"/>
<text x="1377.50" y="135.10" font-size="34.8" text-anchor="start" fill="#000">Pulse</text>
<line x1="1290" y1="166.6" x2="1368" y2="166.6" stroke="#ea5d66" stroke-width="4.4" stroke-linecap="round"/>
<text x="1377.50" y="178.40" font-size="34.8" text-anchor="start" fill="#000">Control</text>
<line x1="1290" y1="209.5" x2="1368" y2="209.5" stroke="#6cc7fb" stroke-width="4.4" stroke-linecap="round"/>
<text x="1377.50" y="221.30" font-size="34.8" text-anchor="start" fill="#000">Target</text>
</g>
<g id="panel-b">
<text x="16.40" y="696.20" font-size="44.8" text-anchor="start" fill="#000" font-weight="bold">b</text>
<rect x="131.1" y="715.8" width="70.90" height="275.10" fill="#5bbef1"/>
<rect x="201.8" y="715.8" width="47.30" height="275.10" fill="#f2e5d6"/>
<rect x="248.9" y="715.8" width="380.60" height="275.10" fill="#f6f1cb"/>
<rect x="629.3" y="715.8" width="153.90" height="275.10" fill="#efd96a"/>
<rect x="783.0" y="715.8" width="72.70" height="275.10" fill="#b0acab"/>
<rect x="1057.7" y="715.8" width="71.40" height="275.10" fill="#5bbef1"/>
<rect x="1128.9" y="715.8" width="47.10" height="275.10" fill="#dab6e0"/>
<rect x="1175.8" y="715.8" width="106.40" height="275.10" fill="#59d577"/>
<rect x="1282.0" y="715.8" width="274.20" height="275.10" fill="#5078c9"/>
<rect x="1556.0" y="715.8" width="153.80" height="275.10" fill="#efd96a"/>
<rect x="1709.6" y="715.8" width="72.40" height="275.10" fill="#b0acab"/>
<polygon points="568.4,830.2 594.2,836.5 583.3,817.6 609.7,827.9 611.4,811.8 632.1,831.9 647.6,821.6 653.3,834.2 680.9,830.2 671.7,849.7 695.2,850.3 682.0,856.6 710.7,872.1 682.0,870.4 684.3,878.4 671.7,878.4 680.9,895.1 656.8,879.6 653.9,888.7 639.6,877.8 631.5,884.1 622.3,875.5 611.4,879.0 607.4,872.7 585.0,873.8 587.9,863.5 568.4,850.8 584.4,847.4" fill="#70fc26"/>
<circle cx="611.0" cy="764.8" r="18" fill="#3c5ca2"/>
<path d="M599.4 764.8H622.6M611.0 753.1999999999999V776.4" stroke="#fff" stroke-width="4.7" fill="none"/>
<circle cx="767.1" cy="764.8" r="18.3" fill="#c96020"/>
<rect x="760.1" y="770.4" width="13.6" height="4.8" fill="#fff"/>
<circle cx="611.0" cy="853.5" r="18" fill="#3c5ca2"/>
<path d="M599.4 853.5H622.6M611.0 841.9V865.1" stroke="#fff" stroke-width="4.7" fill="none"/>
<circle cx="767.1" cy="853.5" r="18.3" fill="#c96020"/>
<rect x="760.1" y="859.1" width="13.6" height="4.8" fill="#fff"/>
<circle cx="611.0" cy="942.8" r="18" fill="#3c5ca2"/>
<path d="M599.4 942.8H622.6M611.0 931.1999999999999V954.4" stroke="#fff" stroke-width="4.7" fill="none"/>
<circle cx="767.1" cy="942.8" r="18.3" fill="#c96020"/>
<rect x="760.1" y="948.4" width="13.6" height="4.8" fill="#fff"/>
<circle cx="651.5" cy="853.5" r="18.3" fill="#c96020"/>
<rect x="644.5" y="859.1" width="13.6" height="4.8" fill="#fff"/>
<path d="M705 855.8L720.7 835.9V845.9H737.1V865.8H720.7V875.5Z" fill="#f26b73"/>
<text x="711.00" y="824.40" font-size="34.8" text-anchor="start" fill="#f26b73"><tspan font-style="italic">t</tspan><tspan font-size="23.3" dy="8.1">co</tspan></text>
<text x="709.80" y="891.00" font-size="23.3" text-anchor="start" fill="#f26b73">ol</text>
<polygon points="1218.9,829.6 1244.2,835.9 1233.9,817.6 1260.8,827.3 1262.6,811.8 1283.2,831.9 1298.2,821.0 1305.1,834.2 1333.2,830.0 1323.4,848.6 1347.5,850.3 1333.8,857.2 1363.6,872.4 1333.2,869.8 1336.1,879.0 1324.0,878.4 1333.0,895.6 1308.5,880.1 1305.6,889.9 1290.7,877.8 1282.1,885.1 1273.5,875.5 1262.6,879.6 1258.6,873.2 1235.6,874.7 1239.0,864.1 1218.9,850.8 1234.4,847.4" fill="#70fc26"/>
<circle cx="1263.3" cy="764.8" r="18" fill="#3c5ca2"/>
<path d="M1251.7 764.8H1274.8999999999999M1263.3 753.1999999999999V776.4" stroke="#fff" stroke-width="4.7" fill="none"/>
<circle cx="1690.2" cy="764.8" r="18.3" fill="#c96020"/>
<rect x="1683.2" y="770.4" width="13.6" height="4.8" fill="#fff"/>
<circle cx="1263.3" cy="853.5" r="18" fill="#3c5ca2"/>
<path d="M1251.7 853.5H1274.8999999999999M1263.3 841.9V865.1" stroke="#fff" stroke-width="4.7" fill="none"/>
<circle cx="1690.2" cy="853.5" r="18.3" fill="#c96020"/>
<rect x="1683.2" y="859.1" width="13.6" height="4.8" fill="#fff"/>
<circle cx="1263.3" cy="942.8" r="18" fill="#3c5ca2"/>
<path d="M1251.7 942.8H1274.8999999999999M1263.3 931.1999999999999V954.4" stroke="#fff" stroke-width="4.7" fill="none"/>
<circle cx="1690.2" cy="942.8" r="18.3" fill="#c96020"/>
<rect x="1683.2" y="948.4" width="13.6" height="4.8" fill="#fff"/>
<circle cx="1304.0" cy="853.5" r="18.3" fill="#c96020"/>
<rect x="1297.0" y="859.1" width="13.6" height="4.8" fill="#fff"/>
<path d="M1363.7 853.9L1383.9 833.7V843.7H1655.1V864.4H1383.9V874.1Z" fill="#6cc8ff"/>
<text x="1500.50" y="832.40" font-size="34.8" text-anchor="start" fill="#6cc8ff"><tspan font-style="italic">t</tspan><tspan font-style="italic" font-size="23.3" dy="7.3">target</tspan></text>
<text x="0" y="0" font-size="34.8" text-anchor="middle" transform="translate(154.60 854.40) rotate(90)">ITO</text>
<text x="0" y="0" font-size="33.6" letter-spacing="-2.8" text-anchor="middle" transform="translate(215.40 852.80) rotate(90)">PVK</text>
<text x="0" y="0" font-size="34.2" text-anchor="middle" transform="translate(807.30 854.00) rotate(90)">Al</text>
<text x="0" y="0" font-size="34.8" text-anchor="middle" transform="translate(1081.30 853.80) rotate(90)">ITO</text>
<text x="0" y="0" font-size="33.6" letter-spacing="-2.1" text-anchor="middle" transform="translate(1141.40 852.85) rotate(90)">PVK/PEIE</text>
<text x="0" y="0" font-size="34.2" text-anchor="middle" transform="translate(1733.90 854.20) rotate(90)">Al</text>
<text x="403.00" y="704.80" font-size="34.8" text-anchor="start" fill="#000">Control device</text>
<text x="1361.50" y="707.30" font-size="34.8" text-anchor="start" fill="#000">Target device</text>
<text x="167.50" y="1040.30" font-size="34.8" text-anchor="start" fill="#000">Anode</text>
<text x="379.50" y="1040.30" font-size="34.8" text-anchor="start" fill="#000">Quasi-2D</text>
<text x="695.50" y="1040.30" font-size="34.8" text-anchor="start" fill="#000">ETL</text>
<text x="787.50" y="1040.30" font-size="34.8" text-anchor="start" fill="#000">Cathode</text>
<text x="1075.50" y="1040.60" font-size="34.8" text-anchor="start" fill="#000">Anode</text>
<text x="1227.50" y="1040.60" font-size="34.8" text-anchor="start" fill="#000">3D</text>
<text x="1421.00" y="1040.60" font-size="34.8" text-anchor="start" fill="#000">2D</text>
<text x="1616.00" y="1040.60" font-size="34.8" text-anchor="start" fill="#000">ETL</text>
<text x="1701.00" y="1040.60" font-size="34.8" text-anchor="start" fill="#000">Cathode</text>
</g>
</svg>
</body>
</html>
